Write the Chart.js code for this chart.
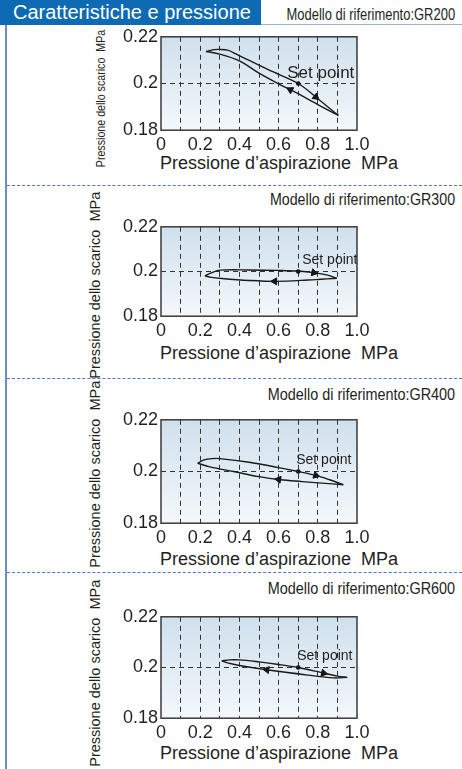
<!DOCTYPE html>
<html lang="it">
<head>
  <meta charset="UTF-8" />
  <title>Caratteristiche e pressione</title>
  <script src="https://cdn.jsdelivr.net/npm/chart.js"></script>
  <style>
    body { margin: 0; background: #fff; font-family: 'Liberation Sans', Arial, sans-serif; color: #231f20; }
    #page { position: relative; width: 462px; height: 769px; overflow: hidden; }
    .bar { position: absolute; left: 0; top: 0; width: 261px; height: 25px; background: #0d6ab3; color: #fff;
           font-size: 20px; line-height: 25px; padding-left: 13px; box-sizing: border-box; white-space: nowrap; }
    .rule { position: absolute; left: 261px; top: 24px; width: 201px; height: 1px; background: #9fb3d3; }
    .vline { position: absolute; left: 5px; top: 25px; width: 2px; height: 744px; background: #6a8dcb; }
    .sep { position: absolute; left: 7px; width: 455px; height: 0; border-top: 1.5px dashed #4d78c6; }
    .model { position: absolute; right: 7px; height: 20px; line-height: 20px; font-size: 16px; white-space: nowrap;
             transform-origin: right center; }
    .ytitle { position: absolute; white-space: pre; line-height: 1; transform-origin: center center; }
    .xtitle { position: absolute; left: 160px; height: 22px; line-height: 22px; font-size: 18px; white-space: pre; }
    canvas { position: absolute; left: 0; }
  </style>
</head>
<body>
<div id="page">
  <div class="bar">Caratteristiche e pressione</div>
  <div class="rule"></div>
  <div class="vline"></div>
  <div class="sep" style="top:185px"></div>
  <div class="sep" style="top:378px"></div>
  <div class="sep" style="top:572px"></div>

  <div class="model" style="top:5px;transform:scaleX(0.81)">Modello di riferimento:GR200</div>
  <div class="model" style="top:190px;transform:scaleX(0.89)">Modello di riferimento:GR300</div>
  <div class="model" style="top:385px;transform:scaleX(0.9)">Modello di riferimento:GR400</div>
  <div class="model" style="top:579px;transform:scaleX(0.9)">Modello di riferimento:GR600</div>

  <div class="ytitle" id="yt1" style="font-size:13px">Pressione dello scarico  MPa</div>
  <div class="ytitle" id="yt2" style="font-size:14.5px">Pressione dello scarico  MPa</div>
  <div class="ytitle" id="yt3" style="font-size:14.5px">Pressione dello scarico  MPa</div>
  <div class="ytitle" id="yt4" style="font-size:14.5px">Pressione dello scarico  MPa</div>

  <div class="xtitle" style="top:152px">Pressione d’aspirazione  MPa</div>
  <div class="xtitle" style="top:342px">Pressione d’aspirazione  MPa</div>
  <div class="xtitle" style="top:548px">Pressione d’aspirazione  MPa</div>
  <div class="xtitle" style="top:742px">Pressione d’aspirazione  MPa</div>

  <canvas id="c1" width="462" height="153" style="top:23px"></canvas>
  <canvas id="c2" width="462" height="153" style="top:213px"></canvas>
  <canvas id="c3" width="462" height="166" style="top:406px"></canvas>
  <canvas id="c4" width="462" height="163" style="top:603px"></canvas>
</div>

<script>
  // tick labels
  const suctionTicks = ['0', '', '0.2', '', '0.4', '', '0.6', '', '0.8', '', '1.0'];
  const dischargeTicks = ['0.18', '0.2', '0.22'];
  const setPoint = [0.7, 0.2];

  // [suction, discharge] - upper branch goes left to right, lower comes back
  const gr200Upper = [[0.23, 0.2137], [0.27, 0.2145], [0.30, 0.2146], [0.34, 0.2143], [0.38, 0.2128], [0.42, 0.2111],
                      [0.55, 0.2058], [0.70, 0.2000], [0.80, 0.1935], [0.905, 0.1863]];
  const gr200Lower = [[0.905, 0.1863], [0.80, 0.1910], [0.675, 0.1967], [0.607, 0.1995], [0.50, 0.2044],
                      [0.40, 0.2097], [0.30, 0.2126], [0.23, 0.2137]];
  const gr200Arrows = [[0.79, 0.1942], [0.66, 0.1973]];

  const gr300Upper = [[0.224, 0.1981], [0.26, 0.1995], [0.30, 0.2006], [0.45, 0.2007], [0.60, 0.2005],
                      [0.70, 0.2002], [0.78, 0.1995], [0.85, 0.1984], [0.897, 0.1970]];
  const gr300Lower = [[0.897, 0.1970], [0.75, 0.1962], [0.59, 0.1956], [0.45, 0.1960], [0.31, 0.1969],
                      [0.25, 0.1975], [0.224, 0.1981]];
  const gr300Arrows = [[0.78, 0.1995], [0.58, 0.1956]];

  const gr400Upper = [[0.187, 0.2032], [0.22, 0.2045], [0.26, 0.2050], [0.30, 0.2050], [0.45, 0.2036],
                      [0.60, 0.2015], [0.70, 0.2000], [0.79, 0.1985], [0.86, 0.1968], [0.93, 0.1949]];
  const gr400Lower = [[0.93, 0.1949], [0.82, 0.1955], [0.72, 0.1961], [0.61, 0.1968], [0.50, 0.1980],
                      [0.37, 0.2000], [0.25, 0.2018], [0.187, 0.2032]];
  const gr400Arrows = [[0.79, 0.1985], [0.60, 0.1969]];

  const gr600Upper = [[0.31, 0.2026], [0.35, 0.2030], [0.40, 0.2030], [0.50, 0.2022], [0.60, 0.2012],
                      [0.70, 0.2000], [0.82, 0.1980], [0.90, 0.1966], [0.95, 0.1961]];
  const gr600Lower = [[0.95, 0.1961], [0.88, 0.1959], [0.75, 0.1970], [0.54, 0.1991], [0.40, 0.2008],
                      [0.34, 0.2018], [0.31, 0.2026]];
  const gr600Arrows = [[0.83, 0.1978], [0.54, 0.1991]];

  const FONT = "'Liberation Sans', Arial, sans-serif";
  const toXY = arr => arr.map(p => ({ x: p[0], y: p[1] }));

  // light blue gradient + dark frame round the plot
  const plotFrame = {
    id: 'plotFrame',
    beforeDraw(chart) {
      const { ctx, chartArea: a } = chart;
      const g = ctx.createLinearGradient(0, a.top, 0, a.bottom);
      g.addColorStop(0, '#cfe0ed');
      g.addColorStop(1, '#f4f8fb');
      ctx.save();
      ctx.fillStyle = g;
      ctx.fillRect(a.left, a.top, a.right - a.left, a.bottom - a.top);
      ctx.restore();
    },
    afterDraw(chart) {
      const { ctx, chartArea: a } = chart;
      ctx.save();
      ctx.strokeStyle = '#3a3a3a';
      ctx.lineWidth = 1.5;
      ctx.strokeRect(a.left, a.top, a.right - a.left, a.bottom - a.top);
      ctx.restore();
    }
  };

  const setPointLabel = {
    id: 'setPointLabel',
    afterDatasetsDraw(chart, args, opts) {
      const { ctx, scales } = chart;
      const px = scales.x.getPixelForValue(setPoint[0]);
      const py = scales.y.getPixelForValue(setPoint[1]);
      ctx.save();
      ctx.fillStyle = '#231f20';
      ctx.font = opts.size + 'px ' + FONT;
      ctx.textBaseline = 'middle';
      ctx.textAlign = 'left';
      ctx.fillText('Set point', px + opts.dx, py + opts.dy);
      ctx.restore();
    }
  };

  function makeChart(id, upper, lower, arrows, arrowRot, xAxisH, label) {
    const line = { type: 'line', showLine: true, borderColor: '#1a1a1a', borderWidth: 1.4,
                   pointRadius: 0, tension: 0.35, fill: false };
    return new Chart(document.getElementById(id), {
      type: 'scatter',
      data: {
        datasets: [
          Object.assign({ data: toXY(upper) }, line),
          Object.assign({ data: toXY(lower) }, line),
          { data: toXY(arrows), pointStyle: 'triangle', pointRadius: 4, rotation: arrowRot,
            backgroundColor: '#111', borderColor: '#111', borderWidth: 1 },
          { data: toXY([setPoint]), pointStyle: 'circle', pointRadius: 2.3,
            backgroundColor: '#111', borderColor: '#111', borderWidth: 0 }
        ]
      },
      options: {
        responsive: false,
        animation: false,
        layout: { padding: { top: 12, right: 105, left: 0, bottom: 0 } },
        plugins: {
          legend: { display: false },
          tooltip: { enabled: false },
          setPointLabel: label
        },
        scales: {
          x: {
            type: 'linear', min: 0, max: 1,
            ticks: { stepSize: 0.1, autoSkip: false, maxRotation: 0, padding: 4, color: '#231f20',
                     font: { family: FONT, size: 18 }, callback: (v, i) => suctionTicks[i] },
            grid: { drawTicks: false, lineWidth: 1,
                    color: c => (c.index === 0 || c.index === 10) ? 'rgba(0,0,0,0)' : '#333' },
            border: { display: false, dash: [5, 4] },
            afterFit: s => { s.height = xAxisH; }
          },
          y: {
            min: 0.18, max: 0.22,
            ticks: { stepSize: 0.02, padding: 3, color: '#231f20',
                     font: { family: FONT, size: 18 }, callback: (v, i) => dischargeTicks[i] },
            grid: { drawTicks: false, lineWidth: 1,
                    color: c => c.index === 1 ? '#333' : 'rgba(0,0,0,0)' },
            border: { display: false, dash: [5, 4] },
            afterFit: s => { s.width = 161; }
          }
        }
      },
      plugins: [plotFrame, setPointLabel]
    });
  }

  makeChart('c1', gr200Upper, gr200Lower, gr200Arrows, [129, 298], 45.8, { dx: -11, dy: -10, size: 17 });
  makeChart('c2', gr300Upper, gr300Lower, gr300Arrows, [101, 270], 49.8, { dx: 4, dy: -11.5, size: 14 });
  makeChart('c3', gr400Upper, gr400Lower, gr400Arrows, [106, 279], 48.8, { dx: -2, dy: -11, size: 14 });
  makeChart('c4', gr600Upper, gr600Lower, gr600Arrows, [102, 278], 47.8, { dx: -1, dy: -11, size: 14 });

  // rotated y titles, centred where the reference has them
  function placeTitle(id, cx, cy, squeeze) {
    const el = document.getElementById(id);
    const w = el.offsetWidth, h = el.offsetHeight;
    el.style.left = (cx - w / 2) + 'px';
    el.style.top = (cy - h / 2) + 'px';
    el.style.transform = 'rotate(-90deg) scaleX(' + squeeze + ')';
  }
  placeTitle('yt1', 101, 98, 0.82);
  placeTitle('yt2', 95, 285, 1);
  placeTitle('yt3', 95, 474, 1);
  placeTitle('yt4', 95, 673, 1);
</script>
</body>
</html>
